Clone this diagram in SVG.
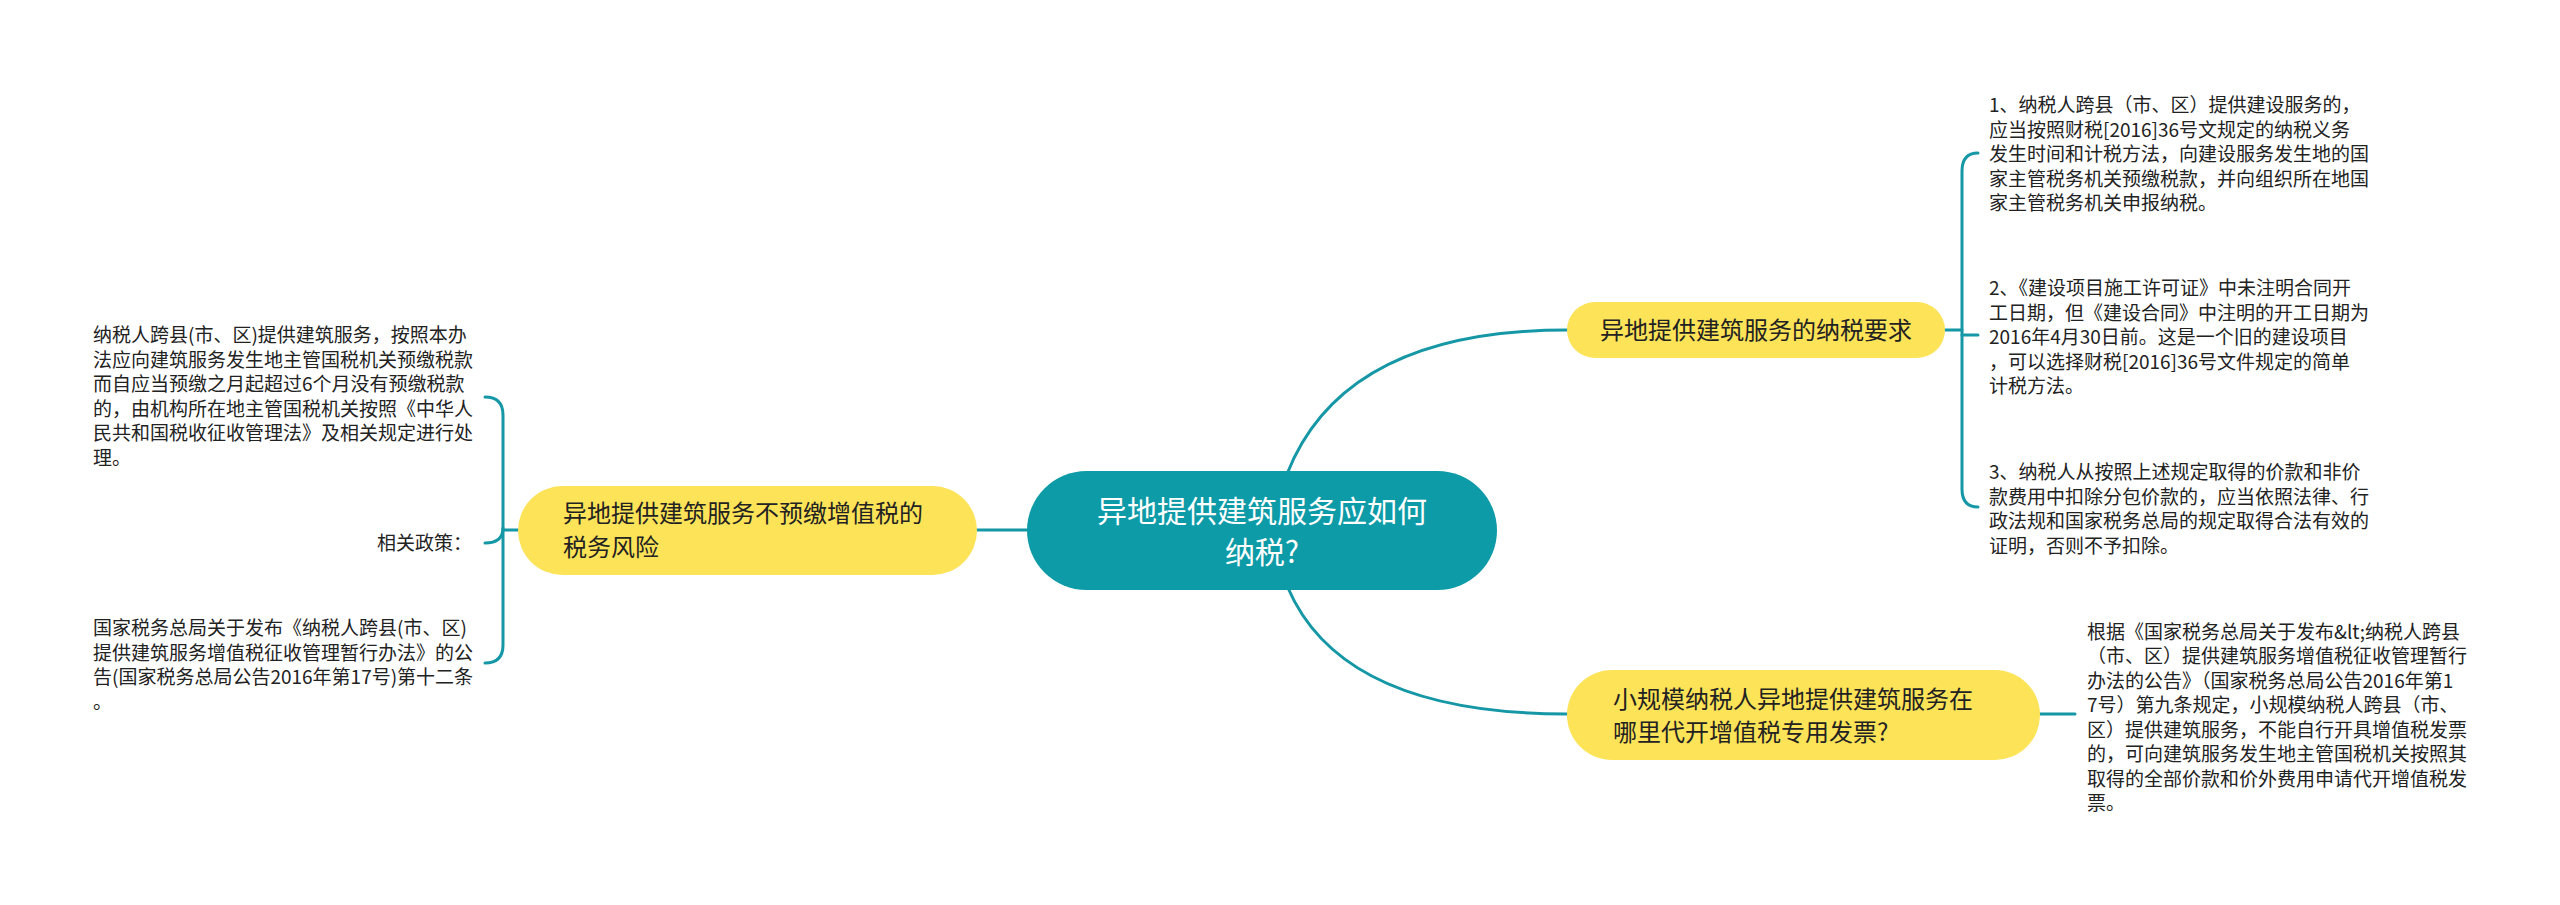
<svg xmlns="http://www.w3.org/2000/svg" width="2560" height="905" viewBox="0 0 2560 905">
<style>
.ln{fill:none;stroke:#1597a6;stroke-width:3;stroke-linecap:round}
.t{font-family:"Noto Sans CJK SC","Liberation Sans",sans-serif;fill:#222}
.s{font-size:19px}
.m{font-size:24px}
.c{font-size:30px;fill:#fff}
.y{fill:#fde357}
</style>
<rect width="2560" height="905" fill="#fff"/>
<g id="connectors">
<path class="ln" d="M1027 530 L977 530"/>
<path class="ln" d="M1287 474 C1320 390, 1400 330, 1567 330"/>
<path class="ln" d="M1288 588 C1320 662, 1400 714, 1567 714"/>
<path class="ln" d="M518 530 L503 530"/>
<path class="ln" d="M485 397 Q503 397 503 415 L503 645 Q503 663 485 663"/>
<path class="ln" d="M485 543 Q503 543 503 528"/>
<path class="ln" d="M1945 330 L1962 330"/>
<path class="ln" d="M1978 153 Q1962 153 1962 171 L1962 489 Q1962 507 1978 507"/>
<path class="ln" d="M1962 335 L1978 335"/>
<path class="ln" d="M2040 714 L2075 714"/>
</g>
<g id="center">
<rect x="1027" y="471" width="470" height="119" rx="59.5" fill="#0e9ba8"/>
<text class="t c" x="1262" y="522" text-anchor="middle">异地提供建筑服务应如何</text>
<text class="t c" x="1262" y="563" text-anchor="middle">纳税?</text>
</g>
<g id="node-left">
<rect class="y" x="518" y="486" width="459" height="89" rx="44.5"/>
<text class="t m" x="563" y="522">异地提供建筑服务不预缴增值税的</text>
<text class="t m" x="563" y="556">税务风险</text>
</g>
<g id="node-right-top">
<rect class="y" x="1567" y="302" width="378" height="56" rx="28"/>
<text class="t m" x="1756" y="339" text-anchor="middle">异地提供建筑服务的纳税要求</text>
</g>
<g id="node-right-bottom">
<rect class="y" x="1567" y="670" width="473" height="90" rx="45"/>
<text class="t m" x="1613" y="708">小规模纳税人异地提供建筑服务在</text>
<text class="t m" x="1613" y="741">哪里代开增值税专用发票?</text>
</g>
<g id="leaf-left-1">
<text class="t s" x="93" y="342">纳税人跨县(市、区)提供建筑服务，按照本办</text>
<text class="t s" x="93" y="366.5">法应向建筑服务发生地主管国税机关预缴税款</text>
<text class="t s" x="93" y="391">而自应当预缴之月起超过6个月没有预缴税款</text>
<text class="t s" x="93" y="415.5">的，由机构所在地主管国税机关按照《中华人</text>
<text class="t s" x="93" y="440">民共和国税收征收管理法》及相关规定进行处</text>
<text class="t s" x="93" y="464.5">理。</text>
</g>
<g id="leaf-left-2">
<text class="t s" x="472" y="550" text-anchor="end">相关政策：</text>
</g>
<g id="leaf-left-3">
<text class="t s" x="93" y="635">国家税务总局关于发布《纳税人跨县(市、区)</text>
<text class="t s" x="93" y="659.5">提供建筑服务增值税征收管理暂行办法》的公</text>
<text class="t s" x="93" y="684">告(国家税务总局公告2016年第17号)第十二条</text>
<text class="t s" x="93" y="708.5">。</text>
</g>
<g id="leaf-right-1">
<text class="t s" x="1989" y="112">1、纳税人跨县（市、区）提供建设服务的，</text>
<text class="t s" x="1989" y="136.5">应当按照财税[2016]36号文规定的纳税义务</text>
<text class="t s" x="1989" y="161">发生时间和计税方法，向建设服务发生地的国</text>
<text class="t s" x="1989" y="185.5">家主管税务机关预缴税款，并向组织所在地国</text>
<text class="t s" x="1989" y="210">家主管税务机关申报纳税。</text>
</g>
<g id="leaf-right-2">
<text class="t s" x="1989" y="295">2、《建设项目施工许可证》中未注明合同开</text>
<text class="t s" x="1989" y="319.5">工日期，但《建设合同》中注明的开工日期为</text>
<text class="t s" x="1989" y="344">2016年4月30日前。这是一个旧的建设项目</text>
<text class="t s" x="1989" y="368.5">，可以选择财税[2016]36号文件规定的简单</text>
<text class="t s" x="1989" y="393">计税方法。</text>
</g>
<g id="leaf-right-3">
<text class="t s" x="1989" y="479">3、纳税人从按照上述规定取得的价款和非价</text>
<text class="t s" x="1989" y="503.5">款费用中扣除分包价款的，应当依照法律、行</text>
<text class="t s" x="1989" y="528">政法规和国家税务总局的规定取得合法有效的</text>
<text class="t s" x="1989" y="552.5">证明，否则不予扣除。</text>
</g>
<g id="leaf-right-4">
<text class="t s" x="2087" y="638.5">根据《国家税务总局关于发布&amp;lt;纳税人跨县</text>
<text class="t s" x="2087" y="663">（市、区）提供建筑服务增值税征收管理暂行</text>
<text class="t s" x="2087" y="687.5">办法的公告》（国家税务总局公告2016年第1</text>
<text class="t s" x="2087" y="712">7号）第九条规定，小规模纳税人跨县（市、</text>
<text class="t s" x="2087" y="736.5">区）提供建筑服务，不能自行开具增值税发票</text>
<text class="t s" x="2087" y="761">的，可向建筑服务发生地主管国税机关按照其</text>
<text class="t s" x="2087" y="785.5">取得的全部价款和价外费用申请代开增值税发</text>
<text class="t s" x="2087" y="810">票。</text>
</g>
</svg>
